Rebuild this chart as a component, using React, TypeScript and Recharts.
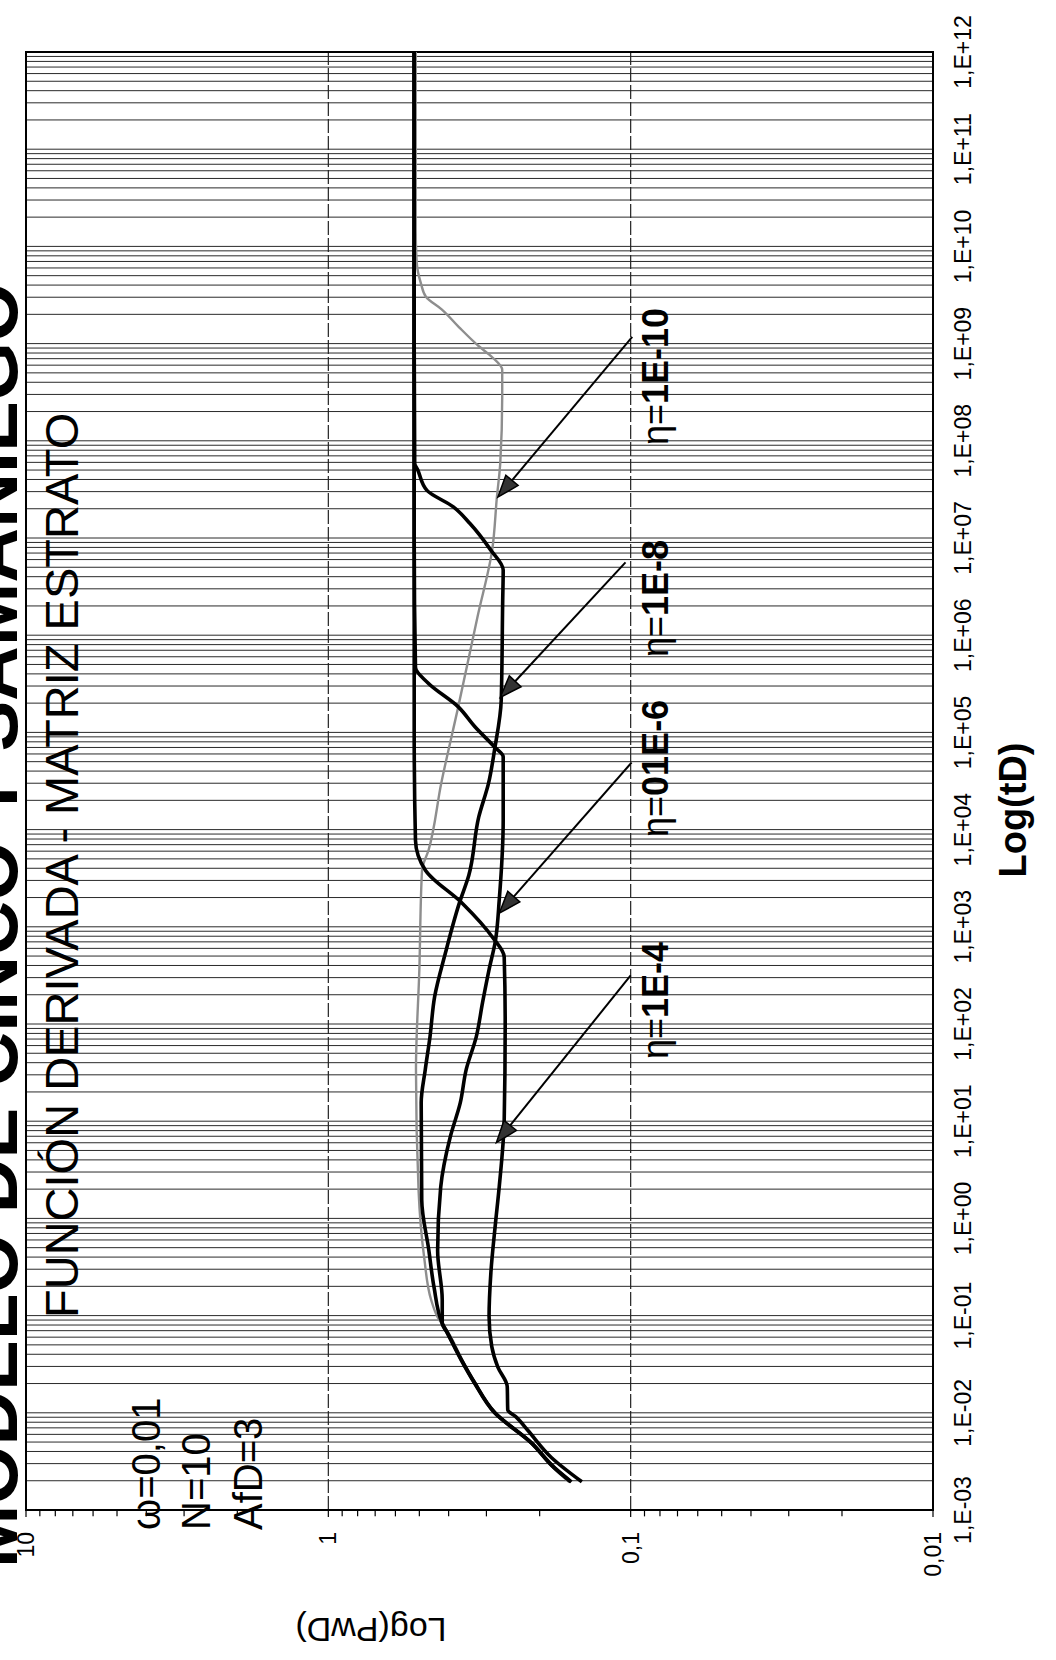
import React from 'react';
import {
  LineChart,
  Line,
  XAxis,
  YAxis,
  CartesianGrid,
  ReferenceLine,
  ReferenceArea,
  ReferenceDot,
} from 'recharts';

const FONT = '"Liberation Sans", Arial, Helvetica, sans-serif';

// Chart is laid out landscape, then turned a quarter turn on the page.
const CHART_W = 1660;
const CHART_H = 1056;

// ---- Axis ticks -----------------------------------------------------------
const X_TICKS = [1e-3, 1e-2, 1e-1, 1, 1e1, 1e2, 1e3, 1e4, 1e5, 1e6, 1e7, 1e8, 1e9, 1e10, 1e11, 1e12];
const X_TICK_LABELS = [
  '1,E-03', '1,E-02', '1,E-01', '1,E+00', '1,E+01', '1,E+02', '1,E+03', '1,E+04',
  '1,E+05', '1,E+06', '1,E+07', '1,E+08', '1,E+09', '1,E+10', '1,E+11', '1,E+12',
];
const Y_TICKS = [0.01, 0.1, 1, 10];
const Y_TICK_LABELS = ['0,01', '0,1', '1', '10'];

// ---- Derivative curves: tD and PwD --------------------------------------
// η = 1E-4
const T_ETA4 = [1.95e-3, 3.47e-3, 6.61e-3, 9.12e-3, 1.07e-2, 1.86e-2, 2.95e-2, 4.79e-2, 9.77e-2, 0.275, 0.891, 2.14, 10.2, 100, 490, 776, 1740, 3800, 7760, 1e5, 1e8, 1e12];
const P_ETA4 = [0.145, 0.183, 0.219, 0.24, 0.255, 0.256, 0.275, 0.288, 0.294, 0.29, 0.28, 0.272, 0.262, 0.26, 0.262, 0.286, 0.36, 0.477, 0.515, 0.52, 0.52, 0.52];

// η = 1E-6
const T_ETA6 = [1.95e-3, 2.75e-3, 4.9e-3, 0.01, 2.04e-2, 3.47e-2, 6.61e-2, 8.32e-2, 0.145, 0.468, 2.09, 6.92, 15.5, 33.9, 74.1, 166, 363, 724, 1910, 12600, 56200, 70800, 115000, 182000, 324000, 468000, 1e7, 1e12];
const P_ETA6 = [0.157, 0.179, 0.213, 0.282, 0.329, 0.363, 0.404, 0.42, 0.42, 0.435, 0.425, 0.395, 0.366, 0.35, 0.324, 0.309, 0.294, 0.28, 0.272, 0.264, 0.264, 0.282, 0.328, 0.371, 0.469, 0.515, 0.52, 0.52];

// η = 1E-8
const T_ETA8 = [1.95e-3, 2.75e-3, 4.9e-3, 0.01, 2.04e-2, 3.47e-2, 6.61e-2, 8.32e-2, 0.195, 0.468, 1.55, 15.5, 33.9, 74.1, 191, 537, 1740, 3390, 13500, 30200, 66100, 214000, 2.29e6, 4.68e6, 7.59e6, 1.41e7, 2.09e7, 3.09e7, 5.01e7, 5.89e7, 1e9, 1e12];
const P_ETA8 = [0.158, 0.18, 0.213, 0.281, 0.328, 0.362, 0.403, 0.42, 0.447, 0.465, 0.491, 0.493, 0.478, 0.461, 0.445, 0.41, 0.369, 0.343, 0.318, 0.295, 0.282, 0.268, 0.265, 0.264, 0.291, 0.34, 0.386, 0.472, 0.506, 0.518, 0.52, 0.52];

// η = 1E-10
const T_ETA10 = [1.95e-3, 2.75e-3, 4.9e-3, 0.01, 2.04e-2, 3.47e-2, 6.61e-2, 9.77e-2, 0.145, 0.398, 1.95, 33.9, 363, 3800, 6170, 30200, 182000, 1.55e6, 7.59e6, 2.63e7, 5.89e7, 2.82e8, 5.37e8, 7.24e8, 9.33e8, 1.48e9, 2.24e9, 3.02e9, 4.17e9, 6.76e9, 1.48e10, 1e12];
const P_ETA10 = [0.16, 0.181, 0.212, 0.28, 0.327, 0.36, 0.4, 0.436, 0.457, 0.482, 0.503, 0.513, 0.5, 0.49, 0.466, 0.423, 0.372, 0.321, 0.287, 0.277, 0.27, 0.266, 0.266, 0.287, 0.317, 0.37, 0.421, 0.475, 0.494, 0.51, 0.514, 0.514];

// ---- Arrow call-outs (η = 1E-4, 1E-6, 1E-8, 1E-10) -------------------------
const ETA_PREFIX = 'η=';
const ETA_TEXT = ['1E-4', '01E-6', '1E-8', '1E-10'];
const LABEL_T = [43.6, 8400, 5.97e5, 9.06e7];
const LABEL_P = [0.0755, 0.0755, 0.0755, 0.0752];
const ARROW_FROM_T = [316, 4.9e4, 5.62e6, 1.175e9];
const ARROW_FROM_P = [0.1, 0.0993, 0.104, 0.0988];
const ARROW_TO_T = [6.03, 1380, 2.29e5, 2.63e7];
const ARROW_TO_P = [0.278, 0.272, 0.27, 0.275];

const zip = (t: number[], p: number[]) => t.map((tv, i) => ({ t: tv, p: p[i] }));

const SERIES = [
  { key: 'eta10', data: zip(T_ETA10, P_ETA10), color: '#8e8e8e', width: 2.4 },
  { key: 'eta4', data: zip(T_ETA4, P_ETA4), color: '#000', width: 3.6 },
  { key: 'eta6', data: zip(T_ETA6, P_ETA6), color: '#000', width: 3.6 },
  { key: 'eta8', data: zip(T_ETA8, P_ETA8), color: '#000', width: 3.6 },
];

// minor log ticks (2..9 in every decade) for the tD gridlines
const X_ALL_TICKS: number[] = [];
X_TICKS.forEach((d, i) => {
  X_ALL_TICKS.push(d);
  if (i < X_TICKS.length - 1) for (let m = 2; m <= 9; m++) X_ALL_TICKS.push(d * m);
});

// minor tick marks on the PwD axis
const Y_MINOR: number[] = [];
Y_TICKS.forEach((d, i) => {
  if (i < Y_TICKS.length - 1) for (let m = 2; m <= 9; m++) Y_MINOR.push(d * m);
});
const Y_MINOR_TICK_END = 8.6e-4; // just outside the left edge of the plot

const majorIndex = (v: number, list: number[]) =>
  list.findIndex((d) => Math.abs(Math.log10(v) - Math.log10(d)) < 1e-6);

const fmtX = (v: number) => {
  const i = majorIndex(v, X_TICKS);
  return i >= 0 ? X_TICK_LABELS[i] : '';
};
const fmtY = (v: number) => {
  const i = majorIndex(v, Y_TICKS);
  return i >= 0 ? Y_TICK_LABELS[i] : '';
};

const ArrowShape = (props: any) => {
  const { x1, y1, x2, y2 } = props;
  if ([x1, y1, x2, y2].some((v) => typeof v !== 'number' || !isFinite(v))) return null;
  const dx = x2 - x1;
  const dy = y2 - y1;
  const len = Math.hypot(dx, dy) || 1;
  const ux = dx / len;
  const uy = dy / len;
  const L = 22;
  const W = 8;
  const bx = x2 - ux * L;
  const by = y2 - uy * L;
  const pts = `${x2},${y2} ${bx - uy * W},${by + ux * W} ${bx + uy * W},${by - ux * W}`;
  return (
    <g>
      <line x1={x1} y1={y1} x2={bx} y2={by} stroke="#000" strokeWidth={2} />
      <polygon points={pts} fill="#333" stroke="#000" strokeWidth={1.5} />
    </g>
  );
};

const TickMark = (props: any) => {
  const { x1, y1, x2, y2 } = props;
  if ([x1, y1, x2, y2].some((v) => typeof v !== 'number' || !isFinite(v))) return null;
  return <line x1={x1} y1={y1} x2={x2} y2={y2} stroke="#000" strokeWidth={1.2} />;
};

const EtaLabel = (prefix: string, text: string) => (props: any) => {
  const { cx, cy } = props;
  if (typeof cx !== 'number' || typeof cy !== 'number') return null;
  return (
    <text x={cx} y={cy} fontFamily={FONT} fontSize={36} fill="#000">
      <tspan>{prefix}</tspan>
      <tspan fontWeight="bold">{text}</tspan>
    </text>
  );
};

export default function App() {
  return (
    <div
      style={{
        position: 'absolute',
        left: 0,
        top: 0,
        width: 1056,
        height: 1660,
        overflow: 'hidden',
        background: '#fff',
      }}
    >
      <div
        style={{
          position: 'absolute',
          left: 0,
          top: 0,
          width: CHART_W,
          height: CHART_H,
          transformOrigin: '0 0',
          transform: `translate(0px, ${CHART_W}px) rotate(-90deg)`,
        }}
      >
        <LineChart
          width={CHART_W}
          height={CHART_H}
          margin={{ top: 26, right: 52, left: 10, bottom: 43 }}
        >
          <CartesianGrid horizontal={false} vertical stroke="#2a2a2a" strokeWidth={1} />
          <CartesianGrid horizontal vertical={false} stroke="#222" strokeWidth={1.2} strokeDasharray="14 3" />
          <XAxis
            dataKey="t"
            type="number"
            scale="log"
            domain={[1e-3, 1e12]}
            allowDataOverflow
            ticks={X_ALL_TICKS}
            interval={0}
            tickFormatter={fmtX}
            tickLine={false}
            axisLine={false}
            tickSize={6}
            tickMargin={16}
            height={80}
            tick={{ fontSize: 23, fill: '#000', fontFamily: FONT }}
          />
          <YAxis
            dataKey="p"
            type="number"
            scale="log"
            domain={[0.01, 10]}
            allowDataOverflow
            ticks={Y_TICKS}
            interval={0}
            tickFormatter={fmtY}
            axisLine={false}
            tickLine={{ stroke: '#000', strokeWidth: 1.2 }}
            tickSize={7}
            tickMargin={15}
            width={140}
            tick={{ fontSize: 23, fill: '#000', fontFamily: FONT }}
          />
          {SERIES.map((s) => (
            <Line
              key={s.key}
              data={s.data}
              dataKey="p"
              type="monotone"
              stroke={s.color}
              strokeWidth={s.width}
              dot={false}
              activeDot={false}
              isAnimationActive={false}
            />
          ))}
          <ReferenceArea
            x1={1e-3}
            x2={1e12}
            y1={0.01}
            y2={10}
            fill="none"
            stroke="#000"
            strokeWidth={2}
            ifOverflow="visible"
          />
          {Y_MINOR.map((v) => (
            <ReferenceLine
              key={`ym-${v}`}
              segment={[
                { x: 1e-3, y: v },
                { x: Y_MINOR_TICK_END, y: v },
              ]}
              shape={TickMark}
              ifOverflow="visible"
            />
          ))}
          {ETA_TEXT.map((txt, i) => (
            <ReferenceLine
              key={`arrow-${i}`}
              segment={[
                { x: ARROW_FROM_T[i], y: ARROW_FROM_P[i] },
                { x: ARROW_TO_T[i], y: ARROW_TO_P[i] },
              ]}
              shape={ArrowShape}
              ifOverflow="visible"
            />
          ))}
          {ETA_TEXT.map((txt, i) => (
            <ReferenceDot
              key={`lbl-${i}`}
              x={LABEL_T[i]}
              y={LABEL_P[i]}
              r={0}
              shape={EtaLabel(ETA_PREFIX, txt)}
              ifOverflow="visible"
            />
          ))}
        </LineChart>
        <svg
          width={CHART_W}
          height={CHART_H}
          style={{ position: 'absolute', left: 0, top: 0, pointerEvents: 'none' }}
        >
          <text x={92} y={17} fontFamily={FONT} fontSize={76} fontWeight="bold" fill="#000">
            MODELO DE CINCO Y SAMANIEGO
          </text>
          <text x={342} y={78} fontFamily={FONT} fontSize={47} fill="#000">
            FUNCIÓN DERIVADA - MATRIZ ESTRATO
          </text>
          <text x={130} y={160} fontFamily={FONT} fontSize={40} fill="#000">ω=0,01</text>
          <text x={130} y={210} fontFamily={FONT} fontSize={40} fill="#000">N=10</text>
          <text x={130} y={262} fontFamily={FONT} fontSize={40} fill="#000">AfD=3</text>
          <text x={850} y={1026} fontFamily={FONT} fontSize={38} fontWeight="bold" textAnchor="middle" fill="#000">
            Log(tD)
          </text>
          <text
            transform="translate(42,371) rotate(-90)"
            fontFamily={FONT}
            fontSize={34}
            textAnchor="middle"
            fill="#000"
          >
            Log(PwD)
          </text>
        </svg>
      </div>
    </div>
  );
}
